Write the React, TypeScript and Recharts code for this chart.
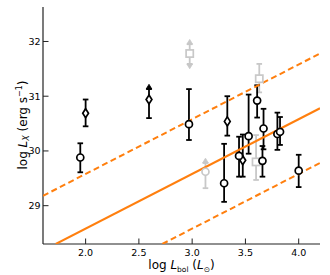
import React from "react";
import { ScatterChart, Scatter, XAxis, YAxis, ErrorBar } from "recharts";

// log L_bol (x), log L_X (y), error range lo..hi
const blackCircles = [
  { x: 1.95, y: 29.88, lo: 29.61, hi: 30.14 },
  { x: 2.97, y: 30.49, lo: 30.2, hi: 31.13 },
  { x: 3.3, y: 29.41, lo: 29.07, hi: 30.13 },
  { x: 3.44, y: 29.91, lo: 29.53, hi: 30.26 },
  { x: 3.53, y: 30.27, lo: 29.95, hi: 31.03 },
  { x: 3.61, y: 30.92, lo: 30.61, hi: 31.2 },
  { x: 3.67, y: 30.41, lo: 30.03, hi: 30.77 },
  { x: 3.66, y: 29.82, lo: 29.53, hi: 30.09 },
  { x: 3.8, y: 30.31, lo: 30.02, hi: 30.7 },
  { x: 3.825, y: 30.35, lo: 30.11, hi: 30.62 },
  { x: 4.0, y: 29.64, lo: 29.34, hi: 29.93 },
];

const blackDiamonds = [
  { x: 2.0, y: 30.69, lo: 30.45, hi: 30.94 },
  { x: 2.595, y: 30.94, lo: 30.6, hi: 31.13 },
  { x: 3.33, y: 30.54, lo: 30.28, hi: 31.0 },
  { x: 3.475, y: 29.83, lo: 29.53, hi: 30.3 },
];

const greyCircles = [{ x: 3.125, y: 29.62, lo: 29.32, hi: 29.78 }];

const greySquares = [
  { x: 2.977, y: 31.78, lo: 31.59, hi: 31.95 },
  { x: 3.63, y: 31.32, lo: 31.07, hi: 31.59 },
  { x: 3.6, y: 29.8, lo: 29.47, hi: 30.29 },
];

// limit arrows (value = where arrow head sits)
const blackUpLimits = [{ x: 2.595, y: 31.13 }];
const greyUpLimits = [
  { x: 2.977, y: 31.95 },
  { x: 3.125, y: 29.78 },
];
const greyDownLimits = [{ x: 2.977, y: 31.59 }];

// L_X / L_bol relation and its spread
const fitLine = [
  { x: 1.72, y: 28.3 },
  { x: 4.2, y: 30.78 },
];
const upperBound = [
  { x: 1.6, y: 29.18 },
  { x: 4.2, y: 31.78 },
];
const lowerBound = [
  { x: 2.72, y: 28.3 },
  { x: 4.2, y: 29.78 },
];

const xTicks = [2.0, 2.5, 3.0, 3.5, 4.0];
const yTicks = [29, 30, 31, 32];

const FONT = "DejaVu Sans, Verdana, sans-serif";
const FRAME = "#222";
const GREY = "#c8c8c8";
const ORANGE = "#ff7f0e";
const TICK = 5.5;

const withErr = (pts: any[]) =>
  pts.map((p) => ({ ...p, err: [p.y - p.lo, p.hi - p.y] }));

const BottomTick = ({ x, y, payload }: any) => (
  <g>
    <line x1={x} x2={x} y1={y} y2={y - TICK} stroke={FRAME} />
    <text x={x} y={y + 12} textAnchor="middle" fontSize={9.5} fontFamily={FONT} fill="#000">
      {Number(payload.value).toFixed(1)}
    </text>
  </g>
);

const TopTick = ({ x, y }: any) => (
  <line x1={x} x2={x} y1={y} y2={y + TICK} stroke={FRAME} />
);

const LeftTick = ({ x, y, payload }: any) => (
  <g>
    <line x1={x} x2={x + TICK} y1={y} y2={y} stroke={FRAME} />
    <text x={x - 2.5} y={y} dy="0.35em" textAnchor="end" fontSize={9.5} fontFamily={FONT} fill="#000">
      {payload.value}
    </text>
  </g>
);

const RightTick = ({ x, y }: any) => (
  <line x1={x} x2={x - TICK} y1={y} y2={y} stroke={FRAME} />
);

const XLabel = () => (
  <text x={181.5} y={269} textAnchor="middle" fontSize={12} fontFamily={FONT} fill="#000">
    log <tspan fontStyle="italic">L</tspan>
    <tspan fontSize={7.5} dy={2.5}>bol</tspan>
    <tspan dy={-2.5}> (</tspan>
    <tspan fontStyle="italic">L</tspan>
    <tspan fontSize={7.5} dy={2.5}>⊙</tspan>
    <tspan dy={-2.5}>)</tspan>
  </text>
);

const YLabel = () => {
  const cy = 125;
  const bx = 26.5;
  return (
    <text
      x={bx}
      y={cy}
      transform={`rotate(-90, ${bx}, ${cy})`}
      textAnchor="middle"
      fontSize={12}
      fontFamily={FONT}
      fill="#000"
    >
      log <tspan fontStyle="italic">L</tspan>
      <tspan fontSize={8} fontStyle="italic" dy={2.5}>X</tspan>
      <tspan dy={-2.5}> (erg s</tspan>
      <tspan fontSize={8} dy={-4.5}>−1</tspan>
      <tspan dy={4.5}>)</tspan>
    </text>
  );
};

const circle = (stroke: string) => (p: any) =>
  <circle cx={p.cx} cy={p.cy} r={3.5} fill="#fff" stroke={stroke} strokeWidth={1.7} />;

const diamond = (p: any) => (
  <polygon
    points={`${p.cx},${p.cy - 4.5} ${p.cx + 2.9},${p.cy} ${p.cx},${p.cy + 4.5} ${p.cx - 2.9},${p.cy}`}
    fill="#fff"
    stroke="#000"
    strokeWidth={1.7}
  />
);

const square = (p: any) => (
  <rect x={p.cx - 3.6} y={p.cy - 3.6} width={7.2} height={7.2} fill="#fff" stroke={GREY} strokeWidth={1.7} />
);

const arrowUp = (color: string) => (p: any) =>
  <polygon points={`${p.cx - 2.9},${p.cy} ${p.cx + 2.9},${p.cy} ${p.cx},${p.cy - 4.8}`} fill={color} stroke={color} strokeWidth={0.8} />;

const arrowDown = (color: string) => (p: any) =>
  <polygon points={`${p.cx - 2.9},${p.cy} ${p.cx + 2.9},${p.cy} ${p.cx},${p.cy + 4.8}`} fill={color} stroke={color} strokeWidth={0.8} />;

const noShape = () => <g />;

export default function App() {
  return (
    <div style={{ position: "absolute", left: 0, top: 0, width: 330, height: 275, background: "#fff" }}>
      <ScatterChart width={330} height={275} margin={{ top: 7, right: 10, bottom: 0, left: 0 }}>
        <XAxis
          xAxisId={0}
          type="number"
          dataKey="x"
          domain={[1.6, 4.2]}
          allowDataOverflow
          ticks={xTicks}
          height={31}
          tickSize={0}
          tickMargin={0}
          tickLine={false}
          axisLine={{ stroke: FRAME, strokeWidth: 1.2 }}
          tick={<BottomTick />}
          label={<XLabel />}
        />
        <XAxis
          xAxisId="top"
          orientation="top"
          type="number"
          domain={[1.6, 4.2]}
          allowDataOverflow
          ticks={xTicks}
          height={0}
          tickSize={0}
          tickMargin={0}
          tickLine={false}
          axisLine={{ stroke: FRAME, strokeWidth: 1.2 }}
          tick={<TopTick />}
        />
        <YAxis
          yAxisId={0}
          type="number"
          dataKey="y"
          domain={[28.3, 32.63]}
          allowDataOverflow
          ticks={yTicks}
          width={43}
          tickSize={0}
          tickMargin={0}
          tickLine={false}
          axisLine={{ stroke: FRAME, strokeWidth: 1.2 }}
          tick={<LeftTick />}
          label={<YLabel />}
        />
        <YAxis
          yAxisId="right"
          orientation="right"
          type="number"
          domain={[28.3, 32.63]}
          allowDataOverflow
          ticks={yTicks}
          width={0}
          tickSize={0}
          tickMargin={0}
          tickLine={false}
          axisLine={{ stroke: FRAME, strokeWidth: 1.2 }}
          tick={<RightTick />}
        />

        <Scatter data={upperBound} line={{ stroke: ORANGE, strokeWidth: 2, strokeDasharray: "6 3.5" }} shape={noShape} isAnimationActive={false} />
        <Scatter data={lowerBound} line={{ stroke: ORANGE, strokeWidth: 2, strokeDasharray: "6 3.5" }} shape={noShape} isAnimationActive={false} />
        <Scatter data={fitLine} line={{ stroke: ORANGE, strokeWidth: 2 }} shape={noShape} isAnimationActive={false} />

        <Scatter data={withErr(greySquares)} shape={square} isAnimationActive={false}>
          <ErrorBar dataKey="err" direction="y" width={2.8} stroke={GREY} strokeWidth={1.8} isAnimationActive={false} />
        </Scatter>
        <Scatter data={withErr(greyCircles)} shape={circle(GREY)} isAnimationActive={false}>
          <ErrorBar dataKey="err" direction="y" width={2.8} stroke={GREY} strokeWidth={1.8} isAnimationActive={false} />
        </Scatter>
        <Scatter data={greyUpLimits} shape={arrowUp(GREY)} isAnimationActive={false} />
        <Scatter data={greyDownLimits} shape={arrowDown(GREY)} isAnimationActive={false} />

        <Scatter data={withErr(blackDiamonds)} shape={diamond} isAnimationActive={false}>
          <ErrorBar dataKey="err" direction="y" width={2.8} stroke="#000" strokeWidth={1.8} isAnimationActive={false} />
        </Scatter>
        <Scatter data={withErr(blackCircles)} shape={circle("#000")} isAnimationActive={false}>
          <ErrorBar dataKey="err" direction="y" width={2.8} stroke="#000" strokeWidth={1.8} isAnimationActive={false} />
        </Scatter>
        <Scatter data={blackUpLimits} shape={arrowUp("#000")} isAnimationActive={false} />
      </ScatterChart>
    </div>
  );
}
